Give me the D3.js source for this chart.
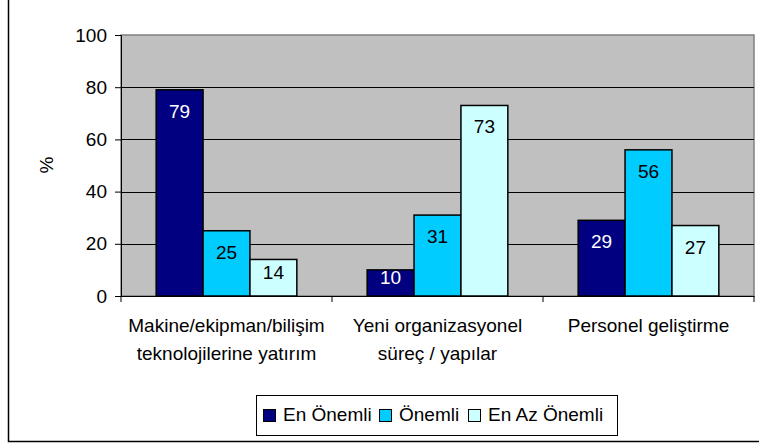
<!DOCTYPE html>
<html>
<head>
<meta charset="utf-8">
<script src="https://cdn.jsdelivr.net/npm/d3@7"></script>
<style>
  body { margin: 0; background: #fff; }
  text { font-family: "Liberation Sans", Arial, sans-serif; }
</style>
</head>
<body>
<svg id="chart"></svg>
<script>
// данные диаграммы
const categories = [
    ["Makine/ekipman/bilişim", "teknolojilerine yatırım"],
    ["Yeni organizasyonel", "süreç / yapılar"],
    ["Personel geliştirme"]
];
const seriesNames = ["En Önemli", "Önemli", "En Az Önemli"];
const enOnemli = [79, 10, 29];
const onemli = [25, 31, 56];
const enAzOnemli = [14, 73, 27];
const yTicks = [0, 20, 40, 60, 80, 100];

const colors = ["#000080", "#00CCFF", "#CCFFFF"];
const labelColors = ["#ffffff", "#000000", "#000000"];
const fontSize = 19;

let width = 759;
let height = 444;

let svg = d3.select("#chart")
    .attr("width", width)
    .attr("height", height);

// внешняя рамка
svg.append("rect")
    .attr("x", 8.5).attr("y", -2)
    .attr("width", width + 4).attr("height", 443.5)
    .attr("fill", "none")
    .attr("stroke", "#000")
    .attr("stroke-width", 1.5);

let plot = { left: 121, right: 754, top: 35, bottom: 296 };

// шкалы
let scaleX = d3.scaleBand()
    .domain(d3.range(categories.length))
    .range([plot.left, plot.right]);

let scaleY = d3.scaleLinear()
    .domain([0, 100])
    .range([plot.bottom, plot.top]);

// фон области построения
svg.append("rect")
    .attr("x", plot.left).attr("y", plot.top)
    .attr("width", plot.right - plot.left)
    .attr("height", plot.bottom - plot.top)
    .attr("fill", "#C0C0C0")
    .attr("stroke", "#808080")
    .attr("stroke-width", 1.5);

// горизонтальные линии сетки
svg.append("g")
    .selectAll("line")
    .data(yTicks.filter(d => d > 0 && d < 100))
    .enter().append("line")
    .attr("x1", plot.left).attr("x2", plot.right)
    .attr("y1", d => Math.round(scaleY(d)) + 0.5)
    .attr("y2", d => Math.round(scaleY(d)) + 0.5)
    .attr("stroke", "#000");

// бары
let series = [enOnemli, onemli, enAzOnemli];
let groupW = scaleX.bandwidth();
let barW = groupW / 4.5;

let scaleInner = d3.scaleBand()
    .domain(d3.range(series.length))
    .range([0.75 * barW, 3.75 * barW]);

series.forEach(function (values, s) {
    let g = svg.append("g");
    g.selectAll("rect")
        .data(values)
        .enter().append("rect")
        .attr("x", (d, i) => scaleX(i) + scaleInner(s))
        .attr("y", d => scaleY(d))
        .attr("width", scaleInner.bandwidth())
        .attr("height", d => scaleY(0) - scaleY(d))
        .attr("fill", colors[s])
        .attr("stroke", "#000")
        .attr("stroke-width", 1.5);

    // подписи значений внутри столбиков
    g.selectAll("text")
        .data(values)
        .enter().append("text")
        .attr("x", (d, i) => scaleX(i) + scaleInner(s) + scaleInner.bandwidth() / 2)
        .attr("y", function (d) {
            let h = scaleY(0) - scaleY(d);
            return scaleY(d) + Math.min(28, h / 2 + 1.5);
        })
        .attr("text-anchor", "middle")
        .attr("font-size", fontSize)
        .attr("fill", labelColors[s])
        .text(d => d);
});

// ось Y
let axisY = d3.axisLeft(scaleY)
    .tickValues(yTicks)
    .tickSize(6)
    .tickPadding(8);

let gy = svg.append("g")
    .attr("transform", `translate(${plot.left}, 0)`)
    .call(axisY);
gy.select(".domain").attr("stroke", "#000");
gy.selectAll("text").attr("font-size", fontSize).attr("fill", "#000")
    .style("font-family", "'Liberation Sans', Arial, sans-serif");

// ось X
let axisX = d3.axisBottom(scaleX)
    .tickValues([])
    .tickSizeOuter(0);
let gx = svg.append("g")
    .attr("transform", `translate(0, ${plot.bottom})`)
    .call(axisX);
gx.select(".domain").attr("stroke", "#000");

// засечки между категориями
svg.append("g")
    .selectAll("line")
    .data(d3.range(categories.length + 1))
    .enter().append("line")
    .attr("x1", d => plot.left + d * groupW)
    .attr("x2", d => plot.left + d * groupW)
    .attr("y1", plot.bottom)
    .attr("y2", plot.bottom + 6)
    .attr("stroke", "#000");

// подписи категорий
svg.append("g")
    .selectAll("text")
    .data(categories)
    .enter().append("text")
    .attr("x", (d, i) => scaleX(i) + groupW / 2)
    .attr("y", 332)
    .attr("text-anchor", "middle")
    .attr("font-size", fontSize)
    .each(function (d) {
        d3.select(this).selectAll("tspan")
            .data(d)
            .enter().append("tspan")
            .attr("x", d3.select(this).attr("x"))
            .attr("dy", (t, j) => j === 0 ? 0 : 28)
            .text(t => t);
    });

// подпись оси Y
svg.append("text")
    .attr("transform", "translate(53, 165) rotate(-90)")
    .attr("text-anchor", "middle")
    .attr("font-size", fontSize)
    .text("%");

// легенда
let legend = svg.append("g");
legend.append("rect")
    .attr("x", 256.5).attr("y", 395.5)
    .attr("width", 361).attr("height", 40)
    .attr("fill", "#fff")
    .attr("stroke", "#000");

let legendX = [263, 379, 468];
let li = legend.selectAll("g.item")
    .data(seriesNames)
    .enter().append("g")
    .attr("transform", (d, i) => `translate(${legendX[i]}, 409)`);
li.append("rect")
    .attr("x", 0.5).attr("y", 0.5)
    .attr("width", 12).attr("height", 12)
    .attr("fill", (d, i) => colors[i])
    .attr("stroke", "#000");
li.append("text")
    .attr("x", 20).attr("y", 12)
    .attr("font-size", fontSize)
    .text(d => d);
</script>
</body>
</html>
